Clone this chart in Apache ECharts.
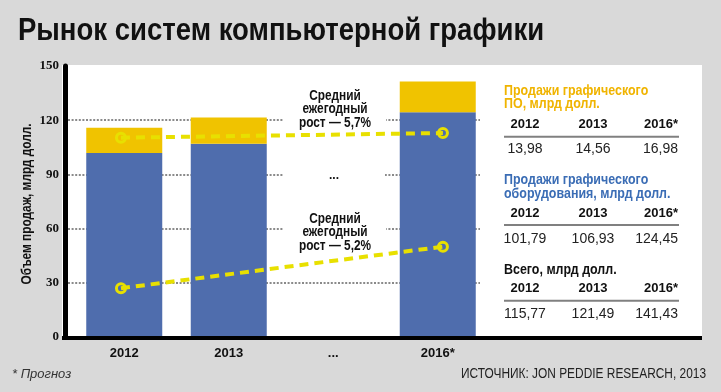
<!DOCTYPE html>
<html><head><meta charset="utf-8">
<script src="https://cdn.jsdelivr.net/npm/echarts@6/dist/echarts.min.js"></script>
<style>html,body{margin:0;padding:0;background:#d9d9d9;}#c{width:721px;height:392px;}</style>
</head><body><div id="c"></div>
<script>
// ---- data ----
const categories = ['2012', '2013', '...', '2016*'];
const hardwareSales = [101.79, 106.93, null, 124.45];   // млрд долл.
const softwareSales = [13.98, 14.56, null, 16.98];       // млрд долл.
const softwareTrend = [110.3, null, null, 112.9];        // illustrative growth line (upper)
const hardwareTrend = [27, null, null, 50];              // illustrative growth line (lower)
const tableYears = ['2012', '2013', '2016*'];
const tableHardware = [101.79, 106.93, 124.45];
const tableSoftware = [13.98, 14.56, 16.98];
const yMin = 0, yMax = 150, yStep = 30;

const SANS = '"Liberation Sans",Arial,sans-serif';
const BLUE = '#4f6dad', YELLOW = '#f0c300', LINEY = '#e8e000';
const fmt = v => v.toFixed(2).replace('.', ',');
const tableTotal = tableHardware.map((v, i) => Math.round((v + tableSoftware[i]) * 100) / 100);

const chart = echarts.init(document.getElementById('c'), null, {renderer: 'canvas'});

const graphics = [];
// panel + bottom rule
graphics.push({type: 'rect', z: -10, silent: true, shape: {x: 62, y: 65, width: 640, height: 273}, style: {fill: '#fff'}});
graphics.push({type: 'rect', z: 50, silent: true, shape: {x: 62, y: 336, width: 640, height: 4}, style: {fill: '#000'}});

// title (condensed look)
graphics.push({type: 'text', z: 50, x: 18, y: 31, scaleX: 0.86,
  style: {text: 'Рынок систем компьютерной графики', fill: '#111', font: 'bold 32px ' + SANS, textVerticalAlign: 'middle'}});

// y axis name
graphics.push({type: 'text', z: 50, x: 27, y: 204, rotation: Math.PI / 2, scaleX: 0.79,
  style: {text: 'Объем продаж, млрд долл.', fill: '#111', font: 'bold 15px ' + SANS, textAlign: 'center', textVerticalAlign: 'middle'}});

function block(titleLines, color, yTitle, yHead, yRule, yVals, values) {
  titleLines.forEach((t, i) => graphics.push({type: 'text', z: 50, x: 504, y: yTitle + i * 13.7, scaleX: 0.83,
    style: {text: t, fill: color, font: 'bold 15px ' + SANS, textVerticalAlign: 'middle'}}));
  const xs = [525, 593, 678], al = ['center', 'center', 'right'];
  tableYears.forEach((t, i) => graphics.push({type: 'text', z: 50, x: xs[i], y: yHead,
    style: {text: t, fill: '#111', font: 'bold 13px ' + SANS, textAlign: al[i], textVerticalAlign: 'middle'}}));
  graphics.push({type: 'rect', z: 50, shape: {x: 504, y: yRule - 1, width: 175, height: 2}, style: {fill: '#808080'}});
  values.forEach((v, i) => graphics.push({type: 'text', z: 50, x: xs[i], y: yVals,
    style: {text: fmt(v), fill: '#222', font: '14px ' + SANS, textAlign: al[i], textVerticalAlign: 'middle'}}));
}
block(['Продажи графического', 'ПО, млрд долл.'], '#f0b400', 90.5, 124, 136.7, 149.3, tableSoftware);
block(['Продажи графического', 'оборудования, млрд долл.'], '#3b6db5', 180, 213.3, 225, 239, tableHardware);
block(['Всего, млрд долл.'], '#111', 270, 288.3, 300.7, 314, tableTotal);

// annotations (white boxes interrupt the grid lines as in the original)
function note(txt, y) {
  graphics.push({type: 'text', z: 1, x: 335, y: y, scaleX: 0.79, style: {text: txt, fill: '#111',
    font: 'bold 15px ' + SANS, lineHeight: 13.5, textAlign: 'center', textVerticalAlign: 'middle',
    backgroundColor: '#fff', padding: [2, 19, 1, 19]}});
}
note('Средний\nежегодный\nрост — 5,7%', 109);
note('Средний\nежегодный\nрост — 5,2%', 232);
graphics.push({type: 'text', z: 1, x: 334, y: 176, style: {text: '...', fill: '#111',
  font: 'bold 12px ' + SANS, textAlign: 'center', textVerticalAlign: 'middle',
  backgroundColor: '#fff', padding: [4, 46, 4, 46]}});
// footer
graphics.push({type: 'text', x: 12, y: 374, style: {text: '* Прогноз', fill: '#333', font: 'italic 13px ' + SANS, textVerticalAlign: 'middle'}});
graphics.push({type: 'text', x: 706, y: 374, scaleX: 0.85, style: {text: 'ИСТОЧНИК: JON PEDDIE RESEARCH, 2013', fill: '#222', font: '14px ' + SANS, textAlign: 'right', textVerticalAlign: 'middle'}});

const yBase = {type: 'value', min: yMin, max: yMax, interval: yStep};
chart.setOption({
  backgroundColor: '#d9d9d9',
  animation: false,
  grid: [
    {left: 72, top: 66, width: 418, height: 271},
    {left: 67.3, top: 66, width: 429.3, height: 271},
    {left: 68, top: 66, width: 412, height: 271}
  ],
  xAxis: [
    {type: 'category', gridIndex: 0, data: categories, axisLine: {show: false}, axisTick: {show: false},
      axisLabel: {margin: 10, color: '#111', fontWeight: 'bold', fontSize: 13, fontFamily: SANS}},
    {type: 'category', gridIndex: 1, data: categories, show: false},
    {type: 'value', gridIndex: 2, show: false}
  ],
  yAxis: [
    Object.assign({}, yBase, {gridIndex: 0, offset: 7,
      axisLine: {show: true, lineStyle: {color: '#000', width: 5}}, axisTick: {show: false}, splitLine: {show: false},
      axisLabel: {margin: 6, color: '#111', fontWeight: 'bold', fontSize: 13, fontFamily: '"Liberation Serif",serif'}}),
    Object.assign({}, yBase, {gridIndex: 1, show: false}),
    Object.assign({}, yBase, {gridIndex: 2, axisLine: {show: false}, axisTick: {show: false}, axisLabel: {show: false},
      splitLine: {show: true, showMinLine: false, showMaxLine: false, lineStyle: {color: '#8a8a8a', width: 2, type: [2, 1.6]}}})
  ],
  series: [
    {type: 'bar', name: 'hardware', stack: 's', xAxisIndex: 0, yAxisIndex: 0, data: hardwareSales, barWidth: 76, itemStyle: {color: BLUE}},
    {type: 'bar', name: 'software', stack: 's', xAxisIndex: 0, yAxisIndex: 0, data: softwareSales, barWidth: 76, itemStyle: {color: YELLOW}},
    {type: 'line', xAxisIndex: 1, yAxisIndex: 1, data: softwareTrend, connectNulls: true, symbol: 'circle', symbolSize: 9, z: 5,
      lineStyle: {color: LINEY, width: 4, type: [9, 6]}, itemStyle: {color: 'rgba(0,0,0,0)', borderColor: LINEY, borderWidth: 3}},
    {type: 'line', xAxisIndex: 1, yAxisIndex: 1, data: hardwareTrend, connectNulls: true, symbol: 'circle', symbolSize: 9, z: 5,
      lineStyle: {color: LINEY, width: 4, type: [9, 6]}, itemStyle: {color: 'rgba(0,0,0,0)', borderColor: LINEY, borderWidth: 3}}
  ],
  graphic: graphics
});
</script></body></html>
